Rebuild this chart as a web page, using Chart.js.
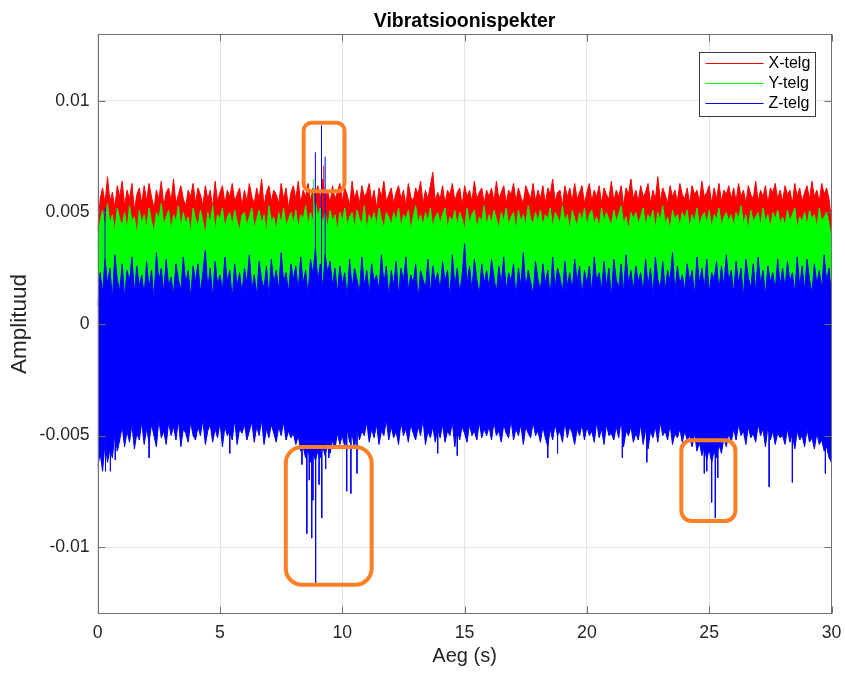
<!DOCTYPE html>
<html>
<head>
<meta charset="utf-8">
<title>Vibratsioonispekter</title>
<script src="https://cdn.jsdelivr.net/npm/chart.js@4.4.1/dist/chart.umd.min.js"></script>
<style>
  html, body { margin: 0; padding: 0; background: #fff; }
  #chart { display: block; }
</style>
</head>
<body>
<canvas id="chart" width="845" height="673"></canvas>
<script>
"use strict";

// envelope of each trace, read every 0.1 s, amplitude in 1e-3
const sampleStep = 0.1;

const xTop = [
	4.2, 5.6, 6.1, 5.4, 6.6, 5.5, 5.9, 5.2, 6.2, 5.7, 6.4, 5.3, 6.0, 5.6, 6.3, 5.1, 5.8, 6.1, 5.4, 6.2,
	5.5, 6.3, 5.7, 5.2, 6.0, 5.6, 6.4, 5.3, 5.9, 6.1, 5.5, 6.5, 5.4, 5.8, 6.2, 5.6, 5.3, 6.0, 5.7, 6.3,
	5.4, 6.1, 5.8, 5.3, 6.2, 5.6, 6.0, 5.2, 6.4, 5.5, 5.9, 6.2, 5.4, 6.0, 5.7, 6.3, 5.5, 5.8, 6.1, 5.3,
	6.0, 5.5, 6.3, 5.7, 5.4, 6.1, 5.6, 6.5, 5.3, 5.9, 6.2, 5.5, 6.0, 5.8, 5.4, 6.3, 5.6, 6.1, 5.2, 5.9,
	6.2, 5.6, 6.4, 5.4, 6.0, 5.7, 6.3, 5.5, 6.1, 5.8, 6.2, 5.6, 6.5, 5.7, 6.0, 5.4, 6.2, 5.6, 5.9, 6.3,
	5.5, 6.1, 5.8, 5.3, 6.4, 5.6, 6.0, 5.4, 6.2, 5.7, 5.9, 6.3, 5.5, 6.0, 5.2, 6.1, 5.7, 6.4, 5.5, 5.8,
	6.1, 5.4, 5.9, 6.2, 5.6, 6.0, 5.3, 6.3, 5.7, 5.5, 6.1, 5.8, 6.4, 5.4, 6.0, 5.6, 6.2, 6.8, 5.5, 5.9,
	5.6, 6.2, 5.4, 6.0, 5.8, 6.3, 5.5, 5.9, 6.1, 5.3, 6.2, 5.7, 6.0, 5.5, 6.4, 5.6, 5.9, 6.1, 5.4, 6.0,
	5.7, 6.1, 5.5, 6.4, 5.6, 5.9, 6.2, 5.4, 6.0, 5.8, 6.3, 5.5, 6.1, 5.7, 5.4, 6.2, 5.9, 5.6, 6.3, 5.5,
	6.0, 5.6, 6.2, 5.4, 6.1, 5.8, 6.5, 5.5, 5.9, 6.0, 5.3, 6.2, 5.7, 6.1, 5.5, 6.3, 5.6, 5.9, 6.2, 5.4,
	5.9, 6.3, 5.5, 6.0, 5.7, 6.2, 5.4, 6.1, 5.8, 5.6, 6.4, 5.5, 6.0, 5.7, 6.2, 5.3, 6.1, 5.8, 6.5, 5.6,
	6.0, 5.5, 6.2, 5.7, 5.9, 6.3, 5.4, 6.0, 5.6, 6.6, 5.5, 6.1, 5.8, 5.4, 6.2, 5.7, 6.0, 5.5, 6.3, 5.8,
	5.6, 6.1, 5.4, 6.2, 5.8, 6.0, 5.5, 6.4, 5.7, 5.9, 6.2, 5.4, 6.1, 5.6, 6.3, 5.5, 6.0, 5.8, 6.2, 5.6,
	6.1, 5.5, 6.3, 5.7, 6.0, 5.4, 6.2, 5.8, 5.6, 6.4, 5.5, 6.0, 5.7, 6.2, 5.4, 6.1, 5.9, 6.3, 5.6, 6.0,
	5.5, 6.2, 5.8, 6.0, 5.4, 6.3, 5.7, 6.1, 5.5, 5.9, 6.2, 5.6, 6.4, 5.7, 6.0, 5.5, 6.3, 5.8, 6.1, 5.6,
	4.6
];

const yTop = [
	3.5, 4.6, 5.1, 4.3, 5.4, 4.5, 4.9, 4.1, 5.2, 4.7, 4.4, 5.0, 4.2, 5.3, 4.6, 4.8, 4.0, 5.1, 4.5, 4.9,
	4.3, 5.2, 4.6, 4.1, 5.0, 4.7, 5.4, 4.4, 4.8, 5.1, 4.2, 4.9, 4.6, 5.3, 4.3, 5.0, 4.5, 4.8, 4.1, 5.2,
	4.7, 4.4, 5.1, 4.6, 4.0, 5.0, 4.5, 5.3, 4.2, 4.9, 4.7, 5.2, 4.3, 4.8, 5.0, 4.4, 5.1, 4.6, 4.2, 4.9,
	5.0, 4.4, 4.8, 5.2, 4.3, 4.7, 5.1, 4.5, 4.9, 4.1, 5.3, 4.6, 4.8, 4.2, 5.0, 4.5, 5.2, 4.4, 4.7, 5.0,
	4.5, 5.1, 4.3, 4.9, 4.7, 5.3, 4.4, 5.0, 4.6, 5.5, 4.8, 5.2, 4.5, 5.0, 4.3, 5.1, 4.6, 4.9, 4.2, 5.0,
	4.6, 5.2, 4.4, 4.8, 5.0, 4.3, 5.1, 4.7, 4.5, 5.3, 4.2, 4.9, 4.6, 5.0, 4.4, 5.2, 4.7, 4.3, 5.0, 4.8,
	4.4, 5.0, 4.6, 5.2, 4.3, 4.9, 4.7, 5.1, 4.2, 4.8, 5.3, 4.5, 4.9, 4.4, 5.0, 4.6, 5.2, 4.3, 4.8, 5.0,
	4.5, 4.9, 5.2, 4.3, 4.8, 4.6, 5.1, 4.4, 5.0, 4.7, 4.2, 5.2, 4.5, 4.9, 5.1, 4.3, 4.8, 4.6, 5.3, 4.4,
	4.9, 4.5, 5.1, 4.7, 4.3, 5.0, 4.6, 5.2, 4.4, 4.8, 5.0, 4.2, 5.1, 4.6, 4.9, 4.4, 5.3, 4.7, 4.5, 5.0,
	4.6, 5.1, 4.4, 4.9, 4.7, 5.2, 4.3, 5.0, 4.8, 4.5, 5.3, 4.6, 4.9, 4.2, 5.1, 4.7, 4.4, 5.0, 4.6, 5.2,
	4.4, 4.9, 5.1, 4.5, 4.8, 4.3, 5.2, 4.6, 5.0, 4.7, 4.4, 5.1, 4.6, 4.9, 5.3, 4.5, 4.8, 4.2, 5.0, 4.7,
	5.0, 4.5, 4.8, 5.2, 4.4, 4.9, 4.7, 5.1, 4.3, 5.0, 4.6, 5.3, 4.5, 4.8, 4.2, 5.1, 4.7, 4.9, 4.4, 5.0,
	4.7, 5.1, 4.3, 4.9, 4.6, 5.2, 4.4, 4.8, 5.0, 4.5, 5.1, 4.3, 4.9, 4.7, 5.2, 4.4, 4.8, 5.0, 4.6, 4.9,
	4.4, 5.0, 4.7, 5.3, 4.5, 4.9, 4.2, 5.1, 4.6, 4.8, 5.0, 4.4, 5.2, 4.6, 4.9, 4.3, 5.0, 4.7, 5.1, 4.5,
	4.8, 4.4, 5.1, 4.6, 4.9, 5.2, 4.3, 4.8, 4.6, 5.0, 4.4, 5.1, 4.7, 4.9, 4.3, 5.2, 4.6, 4.8, 5.0, 4.5,
	3.8
];

const zTop = [
	0.8, 2.3, 1.4, 2.9, 1.8, 2.5, 1.1, 3.1, 2.0, 1.5, 2.7, 1.2, 2.4, 1.9, 3.0, 1.4, 2.6, 1.7, 2.2, 1.3,
	2.8, 1.6, 2.4, 1.1, 3.2, 1.9, 2.5, 1.4, 2.9, 1.7, 2.1, 1.3, 2.7, 2.0, 1.5, 3.0, 1.8, 2.4, 1.2, 2.6,
	1.9, 2.7, 1.4, 2.3, 3.3, 1.6, 2.5, 1.2, 2.8, 1.8, 2.2, 1.5, 3.0, 1.9, 2.4, 1.1, 2.7, 1.7, 2.3, 1.4,
	2.5, 1.8, 3.1, 1.5, 2.2, 1.3, 2.8, 2.0, 1.6, 2.6, 1.2, 2.9, 1.8, 2.4, 1.5, 3.2, 1.9, 2.3, 1.4, 2.7,
	2.0, 2.6, 1.5, 3.0, 1.8, 2.4, 1.3, 2.9, 2.2, 3.4, 1.9, 2.7, 1.6, 3.1, 2.3, 2.8, 1.7, 2.5, 1.4, 2.6,
	1.8, 2.3, 1.2, 2.9, 1.6, 2.5, 2.0, 1.4, 3.0, 1.7, 2.4, 1.3, 2.7, 1.9, 2.2, 1.5, 3.1, 1.8, 2.6, 1.2,
	2.4, 1.7, 2.8, 1.3, 2.5, 1.9, 3.0, 1.5, 2.2, 1.8, 2.7, 1.1, 2.4, 2.0, 1.6, 2.9, 1.4, 2.6, 1.9, 2.3,
	1.5, 2.8, 1.9, 2.4, 1.2, 3.1, 1.7, 2.5, 1.4, 2.2, 3.6, 1.8, 2.6, 1.5, 2.9, 2.0, 1.3, 2.7, 1.8, 2.4,
	1.6, 2.9, 2.1, 1.4, 2.6, 1.8, 3.0, 1.5, 2.3, 1.9, 2.7, 1.2, 2.5, 1.7, 3.2, 1.6, 2.4, 1.9, 1.3, 2.8,
	2.0, 1.5, 2.7, 1.8, 2.4, 1.2, 3.0, 1.6, 2.5, 2.1, 1.4, 2.8, 1.7, 2.3, 1.5, 2.9, 1.9, 2.6, 1.3, 2.4,
	1.8, 2.6, 1.4, 3.0, 1.9, 2.3, 1.5, 2.8, 1.7, 2.5, 1.2, 2.9, 2.0, 1.6, 2.7, 1.4, 3.1, 1.8, 2.4, 1.5,
	2.6, 1.9, 2.3, 1.4, 2.9, 1.7, 2.5, 1.3, 3.0, 2.0, 1.6, 2.8, 1.5, 2.4, 1.9, 3.2, 1.4, 2.6, 1.8, 2.2,
	1.5, 2.7, 1.9, 2.4, 1.3, 3.0, 1.8, 2.5, 1.6, 2.9, 1.4, 2.3, 2.0, 2.8, 1.5, 2.6, 1.7, 3.1, 1.9, 2.4,
	1.4, 2.8, 1.8, 2.5, 1.2, 2.9, 2.1, 1.6, 2.7, 1.5, 3.0, 1.8, 2.4, 1.3, 2.6, 1.9, 2.3, 1.5, 2.9, 1.7,
	2.5, 1.6, 2.8, 1.9, 2.3, 1.4, 3.0, 1.7, 2.6, 1.5, 2.9, 2.0, 1.4, 2.7, 1.8, 2.4, 1.6, 3.1, 1.9, 2.5,
	1.2
];

const zBottom = [
	-6.4, -5.8, -6.6, -5.3, -6.2, -5.6, -6.0, -4.9, -5.7, -5.2, -4.6, -5.5, -4.8, -5.3, -4.5, -5.6, -4.9, -5.2, -4.4, -5.4,
	-4.7, -5.3, -4.5, -5.0, -5.5, -4.3, -5.1, -4.8, -5.4, -4.4, -5.0, -4.6, -5.2, -4.3, -5.5, -4.7, -4.9, -5.3, -4.4, -5.0,
	-5.2, -4.6, -5.0, -4.3, -5.4, -4.8, -4.5, -5.3, -4.7, -5.1, -4.4, -5.5, -4.6, -5.0, -4.8, -5.2, -4.3, -5.4, -4.7, -4.9,
	-4.5, -5.2, -4.8, -4.4, -5.3, -4.6, -5.0, -4.3, -5.4, -4.7, -5.1, -4.5, -4.9, -5.3, -4.6, -5.0, -4.4, -5.2, -4.8, -5.1,
	-4.9, -5.4, -5.0, -5.7, -5.5, -6.0, -5.6, -6.2, -5.8, -6.1, -5.7, -6.0, -5.5, -5.9, -5.3, -5.8, -5.2, -5.6, -4.9, -5.4,
	-5.0, -5.5, -4.7, -5.3, -4.9, -5.6, -4.6, -5.2, -4.8, -5.0, -4.4, -5.3, -4.7, -5.1, -4.5, -5.4, -4.8, -5.0, -4.3, -5.2,
	-4.6, -5.1, -4.8, -5.4, -4.4, -5.0, -4.7, -5.3, -4.5, -4.9, -5.2, -4.6, -5.0, -4.3, -5.4, -4.8, -5.1, -4.6, -5.3, -4.7,
	-5.1, -4.5, -5.3, -4.8, -5.0, -4.4, -5.5, -4.7, -5.2, -4.6, -4.9, -5.3, -4.5, -5.0, -4.8, -5.2, -4.4, -5.1, -4.7, -5.0,
	-4.6, -5.2, -4.4, -5.0, -4.8, -5.3, -4.5, -4.9, -5.1, -4.3, -5.2, -4.7, -5.0, -4.5, -5.4, -4.6, -4.9, -5.1, -4.4, -5.0,
	-4.8, -5.3, -4.6, -5.1, -5.5, -4.7, -5.2, -4.5, -5.0, -4.8, -5.3, -4.4, -5.1, -4.6, -4.9, -5.4, -4.7, -5.0, -4.5, -5.2,
	-4.6, -5.0, -4.8, -5.3, -4.4, -5.1, -4.7, -5.4, -4.5, -5.0, -4.9, -5.2, -4.6, -5.1, -4.3, -5.5, -4.8, -5.0, -4.6, -5.3,
	-4.9, -5.2, -4.5, -5.4, -4.7, -5.6, -4.8, -5.1, -4.6, -5.3, -4.4, -5.0, -4.8, -5.2, -4.5, -5.4, -4.9, -5.1, -4.7, -5.3,
	-4.8, -5.2, -5.0, -5.5, -4.9, -5.7, -5.3, -5.9, -5.5, -6.1, -5.6, -6.2, -5.7, -6.0, -5.4, -5.8, -5.1, -5.5, -4.9, -5.3,
	-4.7, -5.2, -4.5, -5.0, -4.8, -5.4, -4.6, -5.1, -4.9, -5.3, -4.5, -5.0, -4.7, -5.5, -4.6, -5.2, -4.8, -5.4, -4.9, -5.1,
	-5.0, -5.4, -4.7, -5.3, -4.9, -5.6, -4.8, -5.2, -5.0, -5.5, -4.7, -5.3, -5.1, -5.6, -4.9, -5.4, -5.2, -5.7, -5.5, -6.0,
	-6.2
];

// single tall peaks sticking out of the bands: [time (s), amplitude (1e-3)]
const xSpikes = [[9.24, 7.1]];
const ySpikes = [[8.83, 6.5]];
const zSpikes = [
	[0.30, 5.2], [0.32, -6.6], [0.52, -6.6], [0.72, -6.1], [2.10, -6.0], [5.40, -5.8],
	[8.35, -6.3], [8.55, -9.4], [8.65, -7.0], [8.75, -9.6], [8.80, -7.9], [8.90, 7.7],
	[8.91, -11.6], [9.05, -7.2], [9.15, 8.9], [9.16, -8.7], [9.30, 7.5], [9.32, -6.5],
	[9.45, -6.0], [10.18, -7.5], [10.35, -7.6], [10.60, -6.7], [13.90, -5.8], [14.70, -5.9],
	[18.40, -6.0], [18.80, -5.8], [21.45, -6.0], [22.45, -6.2], [24.80, -6.7], [24.90, -6.6],
	[25.10, -8.0], [25.25, -8.7], [25.35, -6.9], [27.45, -7.3], [28.40, -7.1], [29.75, -6.7]
];

const seriesNames = ['X-telg', 'Y-telg', 'Z-telg'];
const seriesColors = ['#ff0000', '#00ff00', '#0000ff'];

const xTicks = [0, 5, 10, 15, 20, 25, 30];
const yTicks = [-0.01, -0.005, 0, 0.005, 0.01];

// orange marks: [t from, t to, amplitude from, amplitude to] (1e-3)
const highlights = [
	[8.42, 10.09, 5.95, 9.02],
	[7.69, 11.20, -11.69, -5.51],
	[23.86, 26.07, -8.83, -5.21]
];

const FONT = "'Liberation Sans', Arial, Helvetica, sans-serif";
const INK = '#262626';

function envelope(values) {
	return values.map(function (v, i) {
		return { x: i * sampleStep, y: v / 1000 };
	});
}

function spikes(list) {
	var pts = [];
	list.forEach(function (s) {
		pts.push({ x: s[0], y: 0 }, { x: s[0], y: s[1] / 1000 }, { x: s[0], y: null });
	});
	return pts;
}

function trace(label, data, color, fill) {
	return {
		label: label,
		data: data,
		borderColor: color,
		backgroundColor: color,
		borderWidth: 1,
		borderJoinStyle: 'bevel',
		pointRadius: 0,
		tension: 0,
		fill: fill
	};
}

// lower index is drawn last, so Z sits on top of Y on top of X
var datasets = [
	trace('Z-telg peaks', spikes(zSpikes), seriesColors[2], false),
	trace('Z-telg', envelope(zTop), seriesColors[2], 2),
	trace('Z-telg low', envelope(zBottom), seriesColors[2], false),
	trace('Y-telg peaks', spikes(ySpikes), seriesColors[1], false),
	trace('Y-telg', envelope(yTop), seriesColors[1], 1),
	trace('X-telg peaks', spikes(xSpikes), seriesColors[0], false),
	trace('X-telg', envelope(xTop), seriesColors[0], 1)
];

// box, inward ticks, legend and orange marks
var frame = {
	id: 'frame',
	afterDraw: function (chart) {
		var ctx = chart.ctx;
		var a = chart.chartArea;
		var xs = chart.scales.x, ys = chart.scales.y;
		var L = Math.round(a.left) + 0.5, R = Math.round(a.right) - 0.5;
		var T = Math.round(a.top) + 0.5, B = Math.round(a.bottom) - 0.5;

		ctx.save();
		ctx.strokeStyle = '#707070';
		ctx.lineWidth = 1;
		ctx.strokeRect(L, T, R - L, B - T);
		ctx.beginPath();
		xTicks.forEach(function (v) {
			var px = Math.round(xs.getPixelForValue(v)) + 0.5;
			ctx.moveTo(px, B); ctx.lineTo(px, B - 7);
			ctx.moveTo(px, T); ctx.lineTo(px, T + 7);
		});
		yTicks.forEach(function (v) {
			var py = Math.round(ys.getPixelForValue(v)) + 0.5;
			ctx.moveTo(L, py); ctx.lineTo(L + 7, py);
			ctx.moveTo(R, py); ctx.lineTo(R - 7, py);
		});
		ctx.stroke();

		// orange marks
		ctx.strokeStyle = '#ff7f27';
		ctx.lineWidth = 4;
		highlights.forEach(function (h) {
			var x0 = xs.getPixelForValue(h[0]), x1 = xs.getPixelForValue(h[1]);
			var y0 = ys.getPixelForValue(h[3] / 1000), y1 = ys.getPixelForValue(h[2] / 1000);
			var w = x1 - x0, hh = y1 - y0;
			ctx.beginPath();
			ctx.roundRect(x0, y0, w, hh, Math.min(w, hh) * 0.19);
			ctx.stroke();
		});

		// legend
		var bw = 116, bh = 64;
		var bx = Math.round(a.right - 16.5 - bw) + 0.5, by = Math.round(a.top + 18) + 0.5;
		ctx.fillStyle = '#fff';
		ctx.fillRect(bx, by, bw, bh);
		ctx.strokeStyle = '#3c3c3c';
		ctx.lineWidth = 1;
		ctx.strokeRect(bx, by, bw, bh);
		ctx.font = '16px ' + FONT;
		ctx.textBaseline = 'middle';
		ctx.textAlign = 'left';
		seriesNames.forEach(function (name, i) {
			var y = Math.round(by + 10.5 + i * 20);
			ctx.strokeStyle = seriesColors[i];
			ctx.beginPath();
			ctx.moveTo(bx + 6, y + 0.5);
			ctx.lineTo(bx + 64, y + 0.5);
			ctx.stroke();
			ctx.fillStyle = '#000';
			ctx.fillText(name, bx + 69, y + 1);
		});
		ctx.restore();
	}
};

var ctx = document.getElementById('chart');
var myChart = new Chart(ctx, {
	type: 'line',
	data: { datasets: datasets },
	plugins: [frame],
	options: {
		responsive: false,
		animation: false,
		devicePixelRatio: 1,
		layout: { padding: { top: 0, right: 13.5, bottom: 0, left: 0 } },
		plugins: {
			legend: { display: false },
			tooltip: { enabled: false },
			title: {
				display: true,
				fullSize: false,
				text: 'Vibratsioonispekter',
				color: '#000',
				font: { family: FONT, size: 19.5, weight: 'bold' },
				padding: { top: 10, bottom: 0.6 }
			}
		},
		scales: {
			x: {
				type: 'linear',
				min: 0,
				max: 30,
				afterBuildTicks: function (s) {
					s.ticks = xTicks.map(function (v) { return { value: v }; });
				},
				afterFit: function (s) {
					s.height = 59;
					s.paddingLeft = 0;
					s.paddingRight = 0;
				},
				grid: { color: '#e3e3e3', drawTicks: false },
				border: { display: false },
				ticks: {
					color: INK,
					font: { family: FONT, size: 17.7 },
					padding: 8.6,
					maxRotation: 0,
					callback: function (v) { return String(v); }
				},
				title: {
					display: true,
					text: 'Aeg (s)',
					color: INK,
					font: { family: FONT, size: 20 },
					padding: { top: 0, bottom: 4.5 }
				}
			},
			y: {
				type: 'linear',
				min: -0.013,
				max: 0.013,
				afterBuildTicks: function (s) {
					s.ticks = yTicks.map(function (v) { return { value: v }; });
				},
				afterFit: function (s) {
					s.width = 97.7;
					s.paddingTop = 0;
					s.paddingBottom = 0;
				},
				grid: { color: '#e3e3e3', drawTicks: false },
				border: { display: false },
				ticks: {
					color: INK,
					font: { family: FONT, size: 17.7 },
					padding: 8,
					callback: function (v) { return String(v); }
				},
				title: {
					display: true,
					text: 'Amplituud',
					color: INK,
					font: { family: FONT, size: 22.5 },
					padding: { top: 6.5, bottom: 0 }
				}
			}
		}
	}
});
</script>
</body>
</html>
